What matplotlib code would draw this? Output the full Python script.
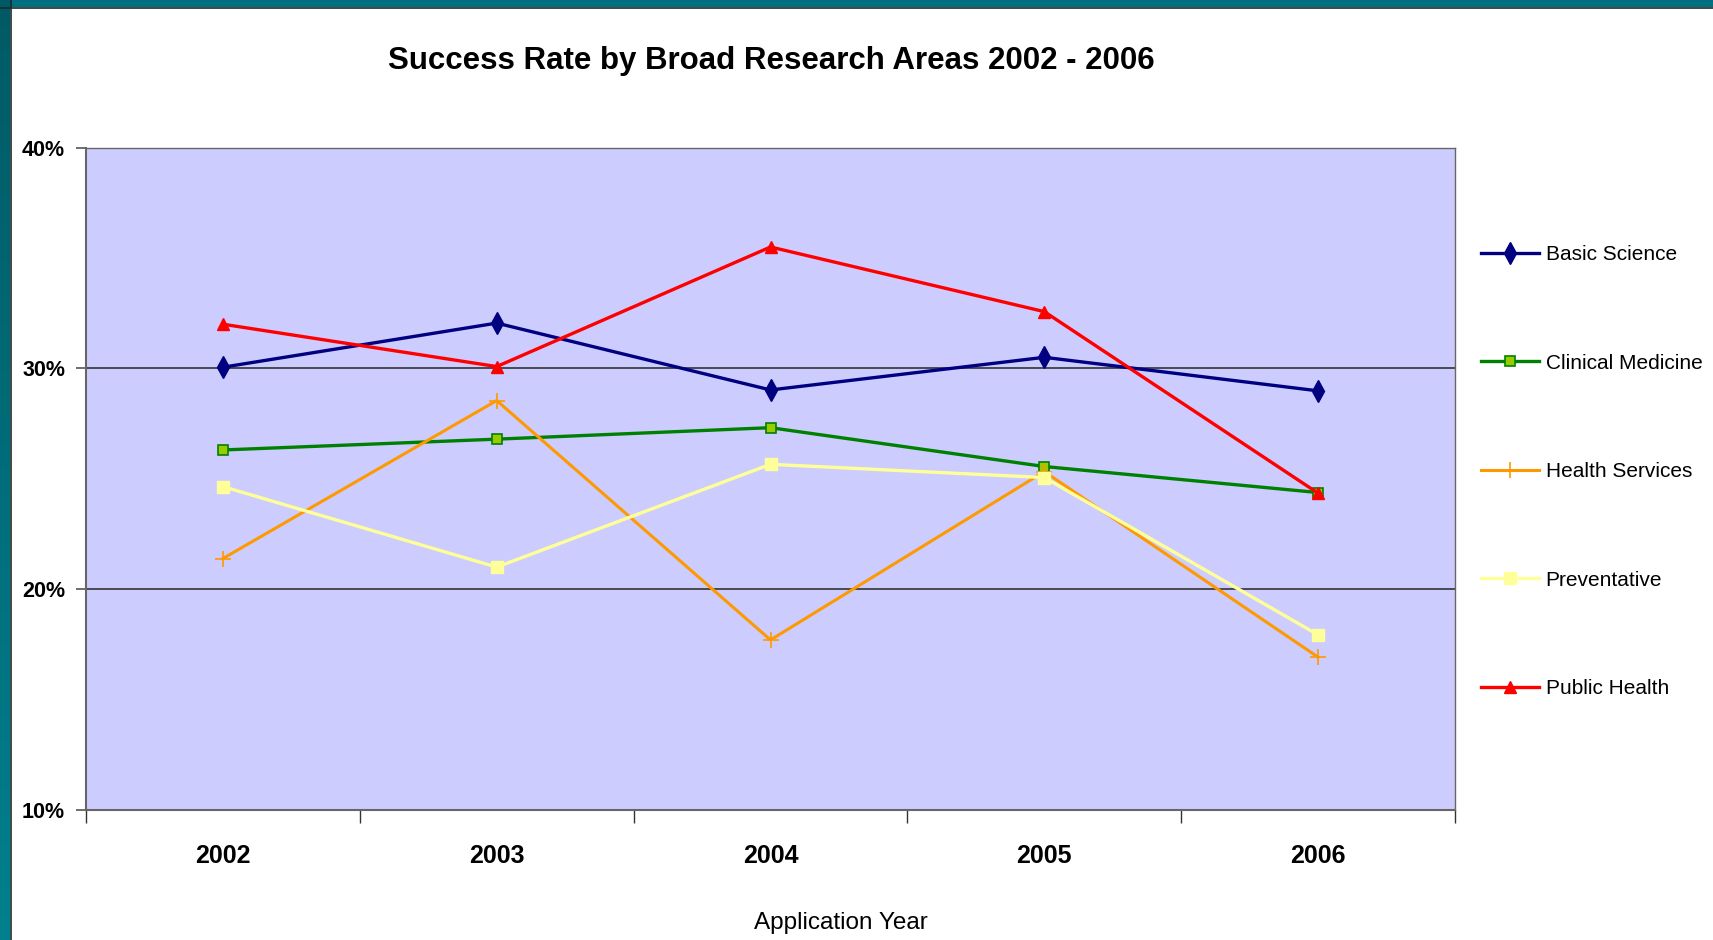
import numpy as np
import matplotlib
matplotlib.use('Agg')
import matplotlib.pyplot as plt
from matplotlib.ticker import FixedLocator, NullFormatter

plt.rcParams['font.family'] = ['Liberation Sans', 'DejaVu Sans']

# Данные
years = ['2002', '2003', '2004', '2005', '2006']
basic_science = [30.05, 32.05, 29.02, 30.50, 28.98]
clinical_medicine = [26.30, 26.79, 27.31, 25.55, 24.37]
health_services = [21.38, 28.54, 17.69, 25.32, 16.91]
preventative = [24.64, 20.99, 25.65, 25.05, 17.92]
public_health = [32.00, 30.08, 35.50, 32.57, 24.34]
y_ticks = [10, 20, 30, 40]

fig = plt.figure(figsize=(17.13, 9.40), dpi=100)

# рамка слайда (бирюзовая полоса сверху и слева)
top_ax = fig.add_axes([0, 1 - 7 / 940, 1, 7 / 940])
top_ax.set_facecolor('#007080')
top_ax.set_xticks([]); top_ax.set_yticks([])
for s in top_ax.spines.values():
    s.set_visible(False)
fig.add_artist(plt.Line2D([0, 1], [1 - 7.5 / 940] * 2, color='#1a2a2a', lw=1.2))

left_ax = fig.add_axes([0, 0, 10 / 1713, 1])
grad = np.linspace(0, 1, 256).reshape(-1, 1)
cmap = matplotlib.colors.LinearSegmentedColormap.from_list('teal', ['#005a66', '#00808e'])
left_ax.imshow(grad, aspect='auto', cmap=cmap, origin='upper')
left_ax.set_xticks([]); left_ax.set_yticks([])
for s in left_ax.spines.values():
    s.set_visible(False)
fig.add_artist(plt.Line2D([10.5 / 1713] * 2, [0, 1], color='#1a2a2a', lw=1.2))

ax = fig.add_axes([86 / 1713, 1 - 809.6 / 940, 1369 / 1713, 661.9 / 940])
ax.set_facecolor('#CCCCFF')

x = np.arange(len(years))
lines = []
lines += ax.plot(x, basic_science, color='#000080', lw=2.4, marker='d', markersize=11,
                 markerfacecolor='#000080', markeredgecolor='#000080', label='Basic Science')
lines += ax.plot(x, clinical_medicine, color='#008000', lw=2.4, marker='s', markersize=7.5,
                 markerfacecolor='#99CC00', markeredgecolor='#008000', markeredgewidth=1.2,
                 label='Clinical Medicine')
lines += ax.plot(x, health_services, color='#FF9900', lw=2.2, marker='+', markersize=12,
                 markeredgewidth=1.2, label='Health Services')
lines += ax.plot(x, preventative, color='#FFFF99', lw=2.4, marker='s', markersize=8.5,
                 markerfacecolor='#FFFF99', markeredgecolor='#FFFF99', label='Preventative')
lines += ax.plot(x, public_health, color='#FF0000', lw=2.4, marker='^', markersize=9,
                 markerfacecolor='#FF0000', markeredgecolor='#FF0000', label='Public Health')

ax.set_xlim(-0.5, len(years) - 0.5)
ax.set_ylim(10, 40)

# ось Y
ax.set_yticks(y_ticks)
ax.set_yticklabels([f'{t}%' for t in y_ticks], fontsize=15.5, fontweight='bold')
ax.tick_params(axis='y', direction='out', length=7, width=1.2, color='#555555', pad=8)
for t in [20, 30]:
    ax.axhline(t, color='#333333', lw=1.2, zorder=1)

# ось X: деления на границах, подписи по центру
ax.xaxis.set_major_locator(FixedLocator(np.arange(-0.5, len(years), 1.0)))
ax.xaxis.set_major_formatter(NullFormatter())
ax.xaxis.set_minor_locator(FixedLocator(x))
ax.set_xticklabels(years, minor=True, fontsize=18, fontweight='bold')
ax.tick_params(axis='x', which='major', direction='out', length=9, width=1, color='#333333')
ax.tick_params(axis='x', which='minor', length=0, pad=25)
ax.set_xlabel('Application Year', fontsize=17.5)
ax.xaxis.set_label_coords(0.5515, -0.155)

for name, s in ax.spines.items():
    s.set_color('#666666')
    s.set_linewidth(1.5 if name in ('left', 'bottom') else 1.0)

fig.text(771 / 1713, 1 - 61 / 940, 'Success Rate by Broad Research Areas 2002 - 2006',
         ha='center', va='center', fontsize=22.5, fontweight='bold')

fig.legend(handles=lines, loc='upper left', bbox_to_anchor=(1481 / 1713, 1 - 245 / 940),
           frameon=False, fontsize=15, labelspacing=4.3, handlelength=2.8,
           handletextpad=0.3, borderpad=0, borderaxespad=0)

fig.savefig('out.png', dpi=100)
